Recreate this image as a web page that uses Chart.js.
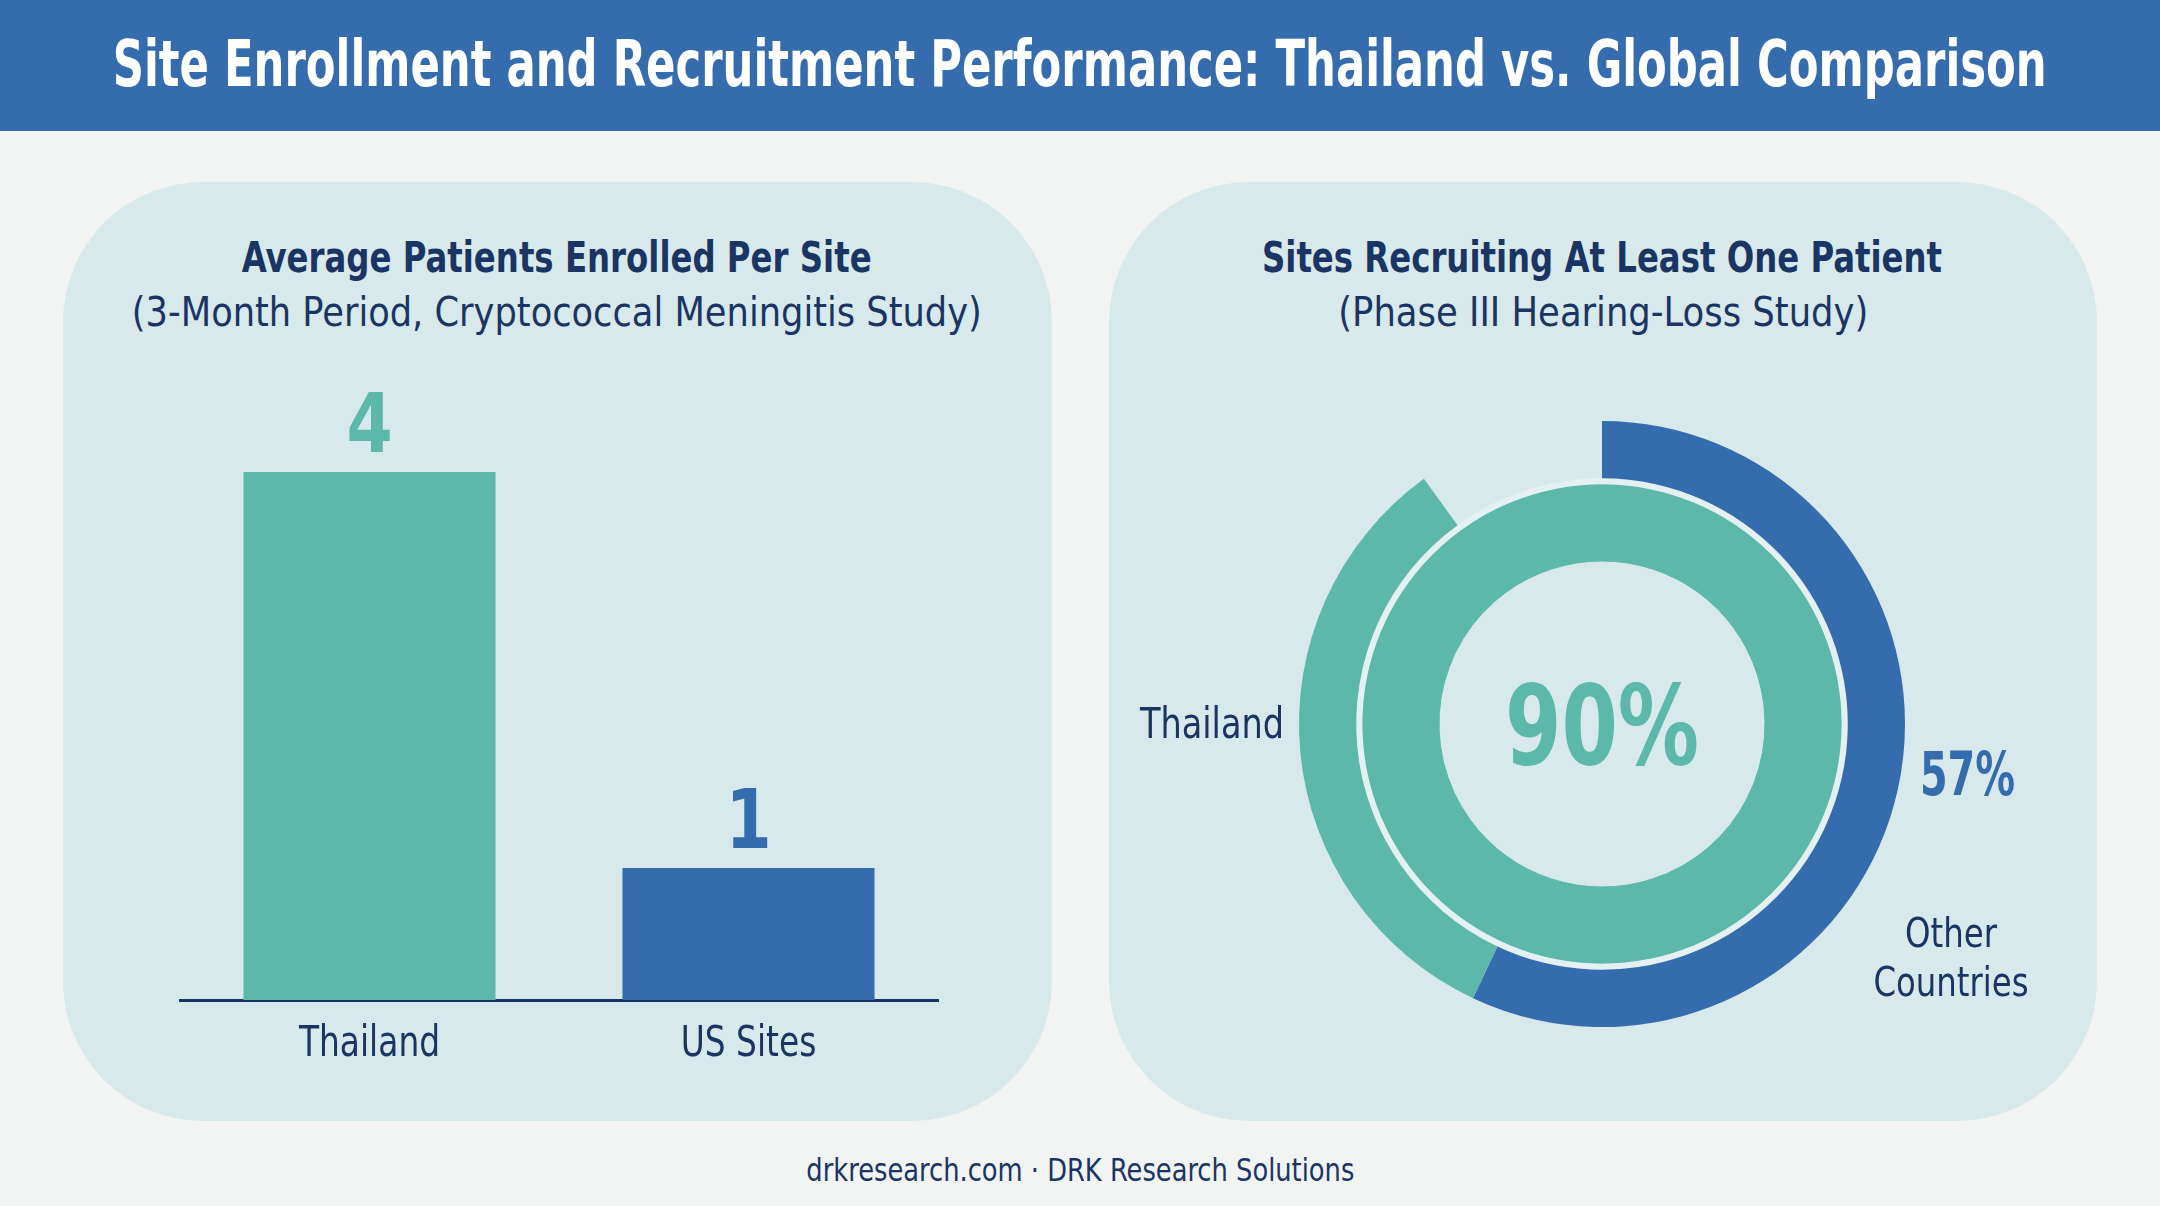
<!DOCTYPE html>
<html><head><meta charset="utf-8">
<script src="https://cdn.jsdelivr.net/npm/chart.js@4.4.1/dist/chart.umd.min.js"></script>
<style>
html,body{margin:0;padding:0;}
body{width:2160px;height:1206px;background:#f2f3f3;position:relative;overflow:hidden;font-family:'DejaVu Sans Condensed','DejaVu Sans',sans-serif;}
#header{position:absolute;left:0;top:0;width:2160px;height:131px;background:#346cae;}
.panel{position:absolute;top:182px;height:939px;background:#d8e9eb;border-radius:140px;}
.txt{position:absolute;white-space:nowrap;line-height:1;transform-origin:center center;}
canvas{position:absolute;}
</style></head>
<body>
<div id="header"></div>
<div class="panel" style="left:63px;width:989px;"></div>
<div class="panel" style="left:1109px;width:988px;"></div>

<div class="txt" data-cx="1080" data-base="86" data-w="1934" style="font-size:64px;font-weight:bold;color:#ffffff;">Site Enrollment and Recruitment Performance: Thailand vs. Global Comparison</div>
<div class="txt" data-cx="557" data-base="273" data-w="630" style="font-size:42px;font-weight:bold;color:#1a3563;">Average Patients Enrolled Per Site</div>
<div class="txt" data-cx="557" data-base="327" data-w="850" style="font-size:41px;color:#1a3563;">(3-Month Period, Cryptococcal Meningitis Study)</div>
<div class="txt" data-cx="1602" data-base="273" data-w="680" style="font-size:42px;font-weight:bold;color:#1a3563;">Sites Recruiting At Least One Patient</div>
<div class="txt" data-cx="1603" data-base="327" data-w="530" style="font-size:41px;color:#1a3563;">(Phase III Hearing-Loss Study)</div>
<div class="txt" data-cx="1080" data-base="1181" data-w="548" style="font-size:32px;color:#1a3563;">drkresearch.com · DRK Research Solutions</div>

<canvas id="bar" width="818" height="760" style="left:150px;top:340px;width:818px;height:760px;"></canvas>
<canvas id="donut" width="984" height="688" style="left:1110px;top:380px;width:984px;height:688px;"></canvas>

<script>
// ---- data ----
const barCategories = ['Thailand', 'US Sites'];
const barValues = [4, 1];
const donutLabels = ['Thailand', 'Other Countries'];
const thailandPct = 90;
const otherPct = 57;

// ---- colours / fonts ----
const TEAL = '#5cb8a9';
const BLUE = '#346cae';
const NAVY = '#1a3563';
const FONT = "'DejaVu Sans Condensed','DejaVu Sans',sans-serif";

// ---- fit HTML texts ----
document.querySelectorAll('.txt').forEach(el => {
  const F = parseFloat(el.style.fontSize);
  const w = el.getBoundingClientRect().width;
  const target = parseFloat(el.dataset.w);
  const s = target / w;
  el.style.left = (parseFloat(el.dataset.cx) - w / 2) + 'px';
  el.style.top = (parseFloat(el.dataset.base) - 0.8465 * F) + 'px';
  el.style.transform = 'scaleX(' + s.toFixed(4) + ')';
});

// draw text horizontally condensed: either by factor or to a target width
function drawText(ctx, text, x, y, align, font, color, opts) {
  ctx.save();
  ctx.font = font;
  ctx.fillStyle = color;
  ctx.textAlign = align;
  ctx.textBaseline = 'alphabetic';
  let sx = opts.scale || 1;
  if (opts.width) sx = opts.width / ctx.measureText(text).width;
  ctx.translate(x, y);
  ctx.scale(sx, 1);
  ctx.fillText(text, 0, 0);
  ctx.restore();
}

// ---- bar chart ----
const barLabelPlugin = {
  id: 'barLabels',
  afterDraw(chart) {
    const ctx = chart.ctx;
    const meta = chart.getDatasetMeta(0);
    const ds = chart.data.datasets[0];
    const xs = chart.scales.x;
    meta.data.forEach((bar, i) => {
      drawText(ctx, String(ds.data[i]), bar.x, bar.y - 20, 'center',
        'bold 82px ' + FONT, ds.backgroundColor[i], { scale: 0.9 });
      drawText(ctx, chart.data.labels[i], xs.getPixelForValue(i), chart.chartArea.bottom + 56, 'center',
        '42px ' + FONT, NAVY, { scale: 0.87 });
    });
  }
};

new Chart(document.getElementById('bar'), {
  type: 'bar',
  data: {
    labels: barCategories,
    datasets: [{
      data: barValues,
      backgroundColor: [TEAL, BLUE],
      borderWidth: 0,
      categoryPercentage: 1,
      barPercentage: 0.665
    }]
  },
  options: {
    responsive: false,
    animation: false,
    layout: { padding: { left: 30, right: 30, top: 0, bottom: 0 } },
    plugins: { legend: { display: false }, tooltip: { enabled: false } },
    scales: {
      y: { display: false, min: 0, max: 5 },
      x: {
        grid: { display: false, drawTicks: false },
        border: { display: true, color: NAVY, width: 3 },
        ticks: { display: false },
        afterFit(axis) { axis.height = 100; }
      }
    }
  },
  plugins: [barLabelPlugin]
});

// ---- donut chart ----
const donutTextPlugin = {
  id: 'donutText',
  afterDraw(chart) {
    const ctx = chart.ctx;
    const arc = chart.getDatasetMeta(0).data[0];
    const cx = arc.x, cy = arc.y, R = arc.outerRadius;
    drawText(ctx, thailandPct + '%', cx, cy + 40, 'center', 'bold 110px ' + FONT, TEAL, { width: 194 });
    drawText(ctx, donutLabels[0], cx - R - 15, cy + 14, 'right', '42px ' + FONT, NAVY, { width: 144 });
    drawText(ctx, otherPct + '%', cx + R + 15, cy + 71, 'left', 'bold 60px ' + FONT, BLUE, { width: 95 });
    const parts = donutLabels[1].split(' ');
    drawText(ctx, parts[0], cx + 349, cy + 223, 'center', '40px ' + FONT, NAVY, { width: 92 });
    drawText(ctx, parts[1], cx + 349, cy + 272, 'center', '40px ' + FONT, NAVY, { width: 155 });
  }
};

new Chart(document.getElementById('donut'), {
  type: 'doughnut',
  data: {
    labels: ['Other Countries', 'Thailand', 'Not recruiting'],
    datasets: [
      {
        data: [otherPct, thailandPct - otherPct, 100 - thailandPct],
        backgroundColor: [BLUE, TEAL, 'rgba(0,0,0,0)'],
        borderWidth: 0,
        weight: 56
      },
      {
        data: [100],
        backgroundColor: ['#e4f0f1'],
        borderWidth: 0,
        weight: 6
      },
      {
        data: [thailandPct, 100 - thailandPct],
        backgroundColor: [TEAL, TEAL],
        borderColor: TEAL,
        borderWidth: 1,
        weight: 75
      }
    ]
  },
  options: {
    responsive: false,
    animation: false,
    cutout: '53.8%',
    layout: { padding: { top: 41, bottom: 41, left: 0, right: 0 } },
    plugins: { legend: { display: false }, tooltip: { enabled: false } }
  },
  plugins: [donutTextPlugin]
});
</script>
</body></html>
